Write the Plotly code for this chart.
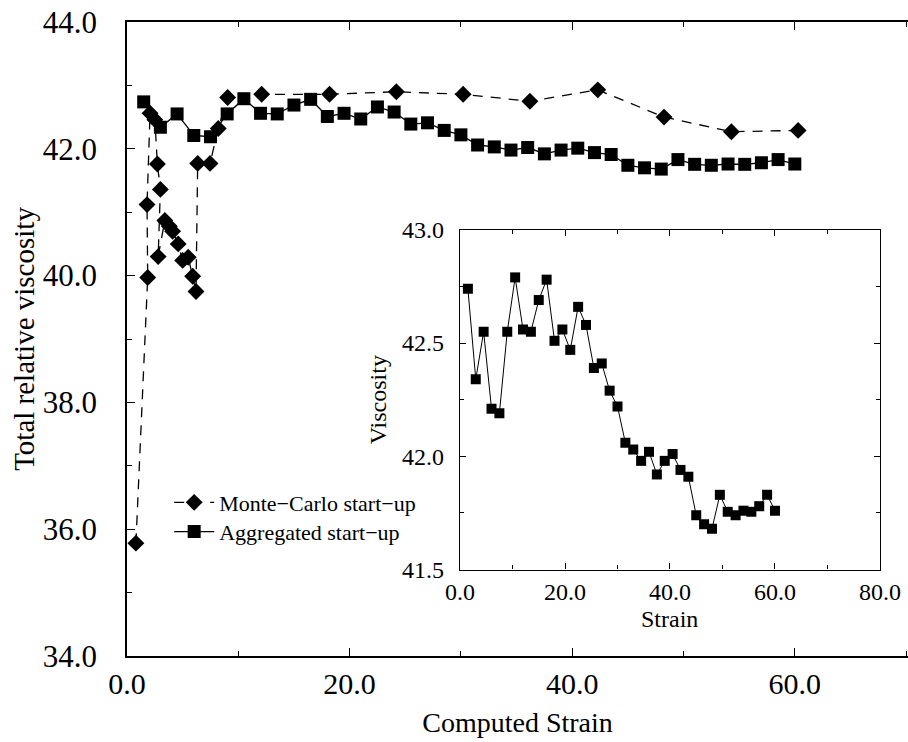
import plotly.graph_objects as go

# Aggregated start-up (squares, solid)
agg_strain = [1.5, 3.0, 4.5, 6.0, 7.5, 9.0, 10.5, 12.0, 13.5, 15.0,
              16.5, 18.0, 19.5, 21.0, 22.5, 24.0, 25.5, 27.0, 28.5, 30.0,
              31.5, 33.0, 34.5, 36.0, 37.5, 39.0, 40.5, 42.0, 43.5, 45.0,
              46.5, 48.0, 49.5, 51.0, 52.5, 54.0, 55.5, 57.0, 58.5, 60.0]
agg_visc = [42.74, 42.34, 42.55, 42.21, 42.19, 42.55, 42.79, 42.56, 42.55, 42.69,
            42.78, 42.51, 42.56, 42.47, 42.66, 42.58, 42.39, 42.41, 42.29, 42.22,
            42.06, 42.03, 41.98, 42.02, 41.92, 41.98, 42.01, 41.94, 41.91, 41.74,
            41.70, 41.68, 41.83, 41.755, 41.74, 41.76, 41.755, 41.78, 41.83, 41.76]

# Monte-Carlo start-up (diamonds, dashed)
mc_strain = [0.8, 1.86, 1.8, 2.07, 2.5, 2.73, 3.0, 2.8, 3.4, 3.8,
             4.1, 4.6, 5.0, 5.5, 5.9, 6.2, 6.35, 7.46, 8.2, 9.04,
             12.1, 18.2, 24.2, 30.2, 36.2, 42.3, 48.25, 54.3, 60.3]
mc_visc = [35.78, 39.97, 41.12, 42.56, 42.46, 41.76, 41.36, 40.30, 40.87, 40.78,
           40.70, 40.50, 40.24, 40.29, 39.99, 39.75, 41.77, 41.77, 42.32, 42.81,
           42.86, 42.86, 42.90, 42.86, 42.75, 42.93, 42.50, 42.27, 42.29]

FONT = "Liberation Serif, Times New Roman, serif"

fig = go.Figure()
fig.add_trace(go.Scatter(
    x=mc_strain, y=mc_visc, mode="lines+markers", name="Monte\u2212Carlo start\u2212up",
    line=dict(color="black", width=1.3, dash="10px,8px"),
    marker=dict(symbol="diamond", size=13, color="black"),
    xaxis="x", yaxis="y", legend="legend"))
fig.add_trace(go.Scatter(
    x=agg_strain, y=agg_visc, mode="lines+markers", name="Aggregated start\u2212up",
    line=dict(color="black", width=1.3),
    marker=dict(symbol="square", size=13, color="black"),
    xaxis="x", yaxis="y", legend="legend2"))
fig.add_trace(go.Scatter(
    x=agg_strain, y=agg_visc, mode="lines+markers", showlegend=False,
    line=dict(color="black", width=1),
    marker=dict(symbol="square", size=10, color="black"),
    xaxis="x2", yaxis="y2"))

axis_common = dict(showgrid=False, zeroline=False, showline=True, linecolor="black",
                   linewidth=1.5, ticks="inside", tickcolor="black", tickformat=".1f")

leg_common = dict(xanchor="left", yanchor="middle", font=dict(size=22, family=FONT),
                  bgcolor="rgba(0,0,0,0)", itemwidth=40)

fig.update_layout(
    width=908, height=742,
    margin=dict(l=127, r=0, t=22, b=85.5, autoexpand=False),
    paper_bgcolor="white", plot_bgcolor="white",
    font=dict(family=FONT, color="black"),
    showlegend=True,
    legend=dict(leg_common, x=0.054, y=0.242),
    legend2=dict(leg_common, x=0.054, y=0.196),
    xaxis=dict(axis_common, range=[0, 70.17], dtick=20, tick0=0, ticklen=8,
               mirror="ticks", minor=dict(dtick=10, ticklen=5, ticks="inside", tickcolor="black"),
               tickfont=dict(size=30), ticklabelstandoff=0,
               title=dict(text="Computed Strain", font=dict(size=28), standoff=14),
               anchor="y", domain=[0, 1]),
    yaxis=dict(axis_common, range=[34, 44], dtick=2, tick0=34, ticklen=8,
               minor=dict(dtick=1, ticklen=5, ticks="inside", tickcolor="black"),
               tickfont=dict(size=31), ticklabelstandoff=22,
               title=dict(text="Total relative viscosity", font=dict(size=29), standoff=0),
               anchor="x", domain=[0, 1]),
    yaxis3=dict(range=[34, 44], dtick=2, tick0=34, ticks="inside", ticklen=8,
                tickcolor="black", showline=False, linecolor="rgba(0,0,0,0)",
                showgrid=False, zeroline=False,
                showticklabels=False, overlaying="y", side="right", anchor="x",
                minor=dict(dtick=1, ticklen=5, ticks="inside", tickcolor="black")),
    xaxis2=dict(axis_common, range=[0, 80], dtick=20, tick0=0, ticklen=6, linewidth=1.3,
                mirror="ticks", minor=dict(dtick=10, ticklen=4, ticks="inside", tickcolor="black"),
                tickfont=dict(size=24), ticklabelstandoff=0,
                anchor="y2", domain=[0.4264, 0.9641]),
    yaxis2=dict(axis_common, range=[41.5, 43.0], dtick=0.5, tick0=41.5, ticklen=6, linewidth=1.3,
                mirror="ticks", minor=dict(dtick=0.25, ticklen=4, ticks="inside", tickcolor="black"),
                tickfont=dict(size=24), ticklabelstandoff=10,
                title=dict(text="Viscosity", font=dict(size=24), standoff=8),
                anchor="x2", domain=[0.1363, 0.6722]),
    annotations=[dict(text="Strain", xref="x2", x=40, yref="paper", y=(656.5 - 619) / 634.5,
                      xanchor="center", yanchor="middle", showarrow=False,
                      font=dict(size=24, family=FONT, color="black"))],
)

fig.write_html("out.html")
